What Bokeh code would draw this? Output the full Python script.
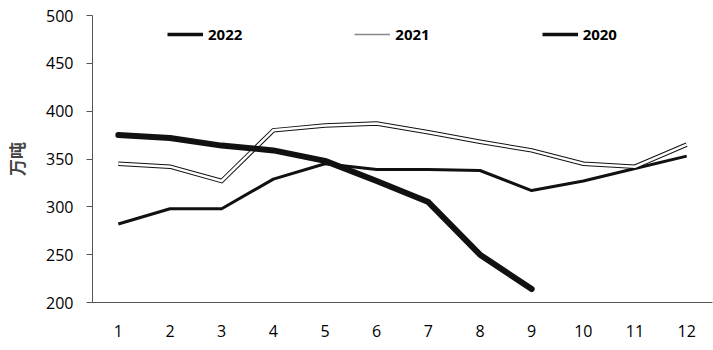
from bokeh.plotting import figure
from bokeh.models import Range1d, FixedTicker, Legend, LegendItem
from bokeh.embed import file_html
from bokeh.resources import INLINE

months = [1, 2, 3, 4, 5, 6, 7, 8, 9, 10, 11, 12]
y2022 = [375, 372, 364, 359, 348, 327, 305, 250, 214]
y2021 = [345, 342, 327, 380, 385, 387, 378, 368, 359, 345, 342, 365]
y2020 = [282, 298, 298, 329, 345, 339, 339, 338, 317, 327, 340, 353]
y_ticks = [200, 250, 300, 350, 400, 450, 500]

p = figure(width=713, height=350, output_backend="svg", toolbar_location=None,
           x_range=Range1d(0.5, 12.5), y_range=Range1d(200, 500))
p.min_border_left = 92
p.min_border_top = 15
p.min_border_bottom = 48
p.min_border_right = 1
p.outline_line_color = None
p.xgrid.visible = False
p.ygrid.visible = False
p.background_fill_color = "white"

p.line(months, y2020, line_color="#111111", line_width=3, line_join="round")
p.line(months, y2021, line_color="#111111", line_width=4.5, line_join="miter")
p.line(months, y2021, line_color="white", line_width=2.5, line_join="miter")
p.line(months[:len(y2022)], y2022, line_color="#111111", line_width=6,
       line_join="round", line_cap="round")

# legend sample lines (placed outside the visible range, shown only in the legend)
off_x = [-20, -19]
off_y = [0, 0]
l2022 = p.line(off_x, off_y, line_color="#111111", line_width=3.5)
l2021 = p.line(off_x, off_y, line_color="#888888", line_width=1.5)
l2020 = p.line(off_x, off_y, line_color="#111111", line_width=3.5)

font = "Open Sans"
p.xaxis.ticker = FixedTicker(ticks=months)
p.xaxis.major_tick_line_color = None
p.xaxis.minor_tick_line_color = None
p.xaxis.axis_line_color = "#555555"
p.xaxis.major_label_text_font = font
p.xaxis.major_label_text_font_size = "16px"
p.xaxis.major_label_text_color = "black"
p.xaxis.major_label_standoff = 16

p.yaxis.ticker = FixedTicker(ticks=y_ticks)
p.yaxis.minor_tick_line_color = None
p.yaxis.major_tick_in = 0
p.yaxis.major_tick_out = 6
p.yaxis.major_tick_line_color = "#555555"
p.yaxis.axis_line_color = "#555555"
p.yaxis.major_label_text_font = font
p.yaxis.major_label_text_font_size = "16px"
p.yaxis.major_label_text_color = "black"
p.yaxis.major_label_standoff = 13
p.yaxis.axis_label = "万吨"
p.yaxis.axis_label_text_font = "Noto Sans CJK SC"
p.yaxis.axis_label_text_font_style = "bold"
p.yaxis.axis_label_text_font_size = "17px"
p.yaxis.axis_label_standoff = 14

legend = Legend(items=[
    LegendItem(label="2022", renderers=[l2022]),
    LegendItem(label="2021", renderers=[l2021]),
    LegendItem(label="2020", renderers=[l2020]),
], orientation="horizontal", location=(75, 258))
legend.padding = 0
legend.margin = 0
legend.spacing = 112
legend.glyph_width = 36
legend.glyph_height = 20
legend.label_height = 20
legend.label_standoff = 5
legend.border_line_color = None
legend.background_fill_alpha = 0
legend.label_text_font = font
legend.label_text_font_style = "bold"
legend.label_text_font_size = "15px"
legend.label_text_color = "black"
p.add_layout(legend)

open("out.html", "w").write(file_html(p, INLINE))
